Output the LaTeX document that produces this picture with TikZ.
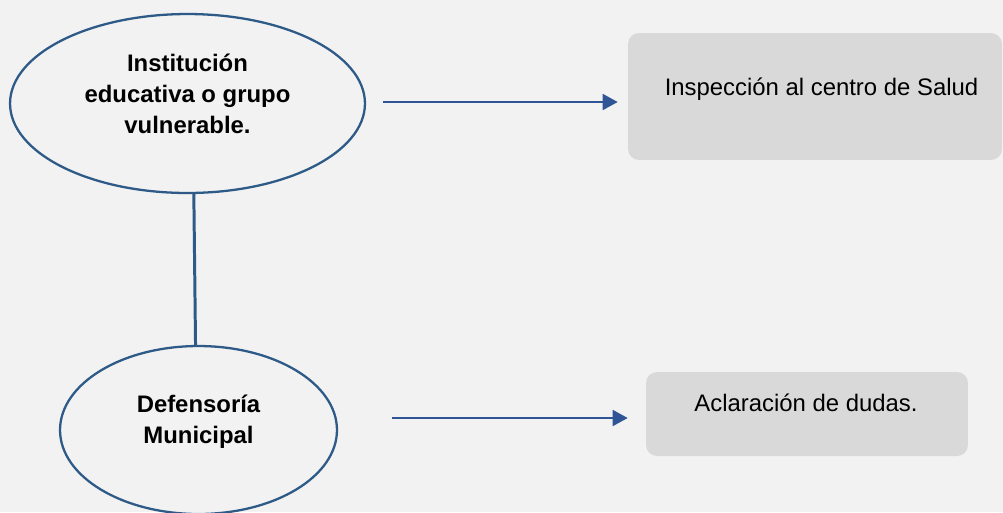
\documentclass[tikz,border=0pt]{standalone}
\usepackage{fontspec}
\setmainfont{Liberation Sans}
\usetikzlibrary{positioning,shapes.geometric,arrows.meta}
\definecolor{ovalblue}{HTML}{2E5A88}
\definecolor{arrowblue}{HTML}{2F5597}
\definecolor{boxgray}{HTML}{D9D9D9}
\definecolor{backgray}{HTML}{F2F2F2}

\begin{document}
\begin{tikzpicture}[x=0.02cm,y=-0.02cm,
  oval/.style={ellipse,draw=ovalblue,line width=1.3pt},
  ovaltext/.style={font=\fontsize{13.6}{17.5}\selectfont\bfseries,align=center},
  greybox/.style={rectangle,rounded corners=0.22cm,fill=boxgray},
  boxtext/.style={font=\fontsize{13.6}{17}\selectfont,anchor=base},
  flow/.style={-{Triangle[length=0.3cm,width=0.32cm]},arrowblue,line width=1pt}]
  \fill [backgray] (0,0) rectangle (1003,512);
  \clip (0,0) rectangle (1003,512);

  \node (inst) [oval,minimum width=7.1cm,minimum height=3.58cm] at (187.5,103.5) {};
  \node (insttext) [ovaltext] at (187.5,94) {Institución\\educativa o grupo\\vulnerable.};
  \node (def) [oval,minimum width=5.54cm,minimum height=3.36cm] at (198.5,430) {};
  \node (deftext) [ovaltext] at (198.5,422) {Defensoría\\Municipal};

  \node (insp) [greybox,minimum width=7.48cm,minimum height=2.54cm] at (815,96.5) {};
  \node (insptext) [boxtext] at (821.5,95) {Inspección al centro de Salud};
  \node (acla) [greybox,minimum width=6.44cm,minimum height=1.68cm] at (807,414) {};
  \node (aclatext) [boxtext] at (806,411) {Aclaración de dudas.};

  \coordinate (start1) at (383,102);
  \coordinate (start2) at (392,418);

  \draw [ovalblue,line width=1.7pt] (inst.-86) to (def.92);
  \draw [flow,shorten >=0.2cm] (start1) to (start1 -| insp.west);
  \draw [flow,shorten >=0.36cm] (start2) to (start2 -| acla.west);
\end{tikzpicture}
\end{document}
